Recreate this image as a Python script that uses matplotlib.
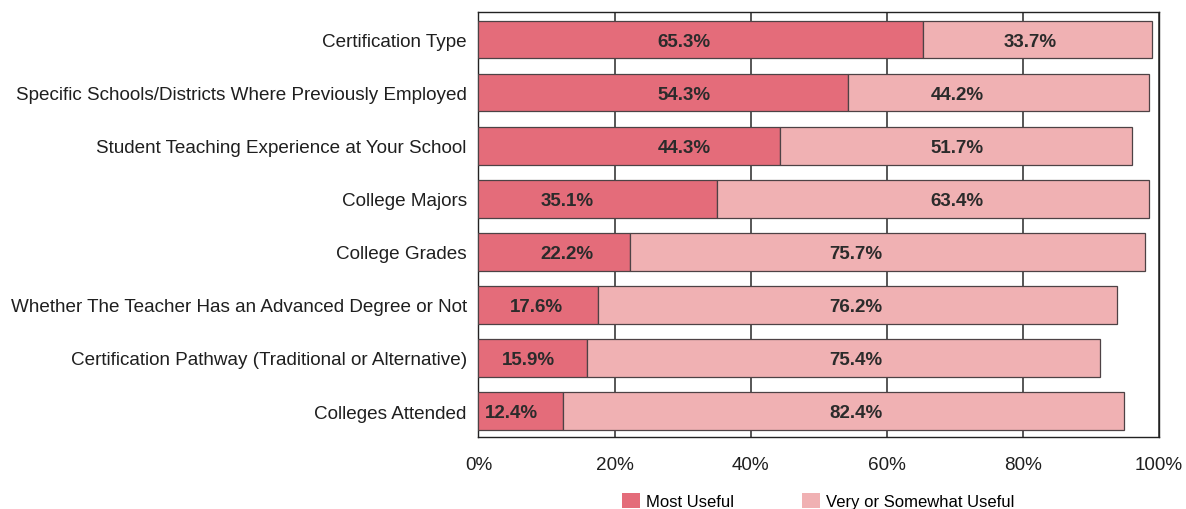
import numpy as np
import matplotlib.pyplot as plt

plt.rcParams['font.family'] = ['Liberation Sans', 'DejaVu Sans']

categories = ['Certification Type',
              'Specific Schools/Districts Where Previously Employed',
              'Student Teaching Experience at Your School',
              'College Majors',
              'College Grades',
              'Whether The Teacher Has an Advanced Degree or Not',
              'Certification Pathway (Traditional or Alternative)',
              'Colleges Attended']
most_useful = [65.3, 54.3, 44.3, 35.1, 22.2, 17.6, 15.9, 12.4]
very_somewhat = [33.7, 44.2, 51.7, 63.4, 75.7, 76.2, 75.4, 82.4]
xticks = [0, 20, 40, 60, 80, 100]

# where the value labels sit in the source chart (x, in % units)
dark_label_x = [30.2, 30.2, 30.2, 13.0, 13.0, 8.5, 7.3, 4.8]
light_label_x = [81.0, 70.3, 70.3, 70.3, 55.5, 55.5, 55.5, 55.5]

dark = '#E46C7A'
light = '#F0B1B3'

fig = plt.figure(figsize=(11.86, 5.1), dpi=100)
ax = fig.add_axes([478.5 / 1186, 72 / 510, 680.5 / 1186, 425 / 510])

y = np.arange(len(categories))[::-1]
h = 0.71
ax.barh(y, most_useful, height=h, color=dark, edgecolor='#4d4245', linewidth=0.9,
        label='Most Useful', zorder=3)
ax.barh(y, very_somewhat, left=most_useful, height=h, color=light, edgecolor='#4d4245',
        linewidth=0.9, label='Very or Somewhat Useful', zorder=3)

for yi, a, b, xa, xb in zip(y, most_useful, very_somewhat, dark_label_x, light_label_x):
    ax.text(xa, yi - 0.03, f'{a:.1f}%', ha='center', va='center',
            fontsize=13.5, fontweight='bold', color='#2b2b2b', zorder=4)
    ax.text(xb, yi - 0.03, f'{b:.1f}%', ha='center', va='center',
            fontsize=13.5, fontweight='bold', color='#2b2b2b', zorder=4)

ax.set_xlim(0, 100)
ax.set_ylim(-0.49, 7.52)
ax.set_xticks(xticks)
ax.set_xticklabels([f'{t}%' for t in xticks])
ax.set_yticks(y)
ax.set_yticklabels(categories)
ax.tick_params(axis='both', length=0, labelsize=13.6, colors='#1f1f1f')
ax.tick_params(axis='x', pad=13.5)
ax.tick_params(axis='y', pad=8.4)
ax.xaxis.grid(True, color='#3a3a3a', linewidth=1.2, zorder=0)
for s in ax.spines.values():
    s.set_color('#222222')
    s.set_linewidth(1.0)

leg = fig.legend(loc='center', bbox_to_anchor=(818.5 / 1186, 1 - 502 / 510), ncol=2,
                 frameon=False, fontsize=12, handlelength=1.08, handleheight=0.96,
                 columnspacing=4.1, handletextpad=0.36)
for p in leg.get_patches():
    p.set_edgecolor('none')

fig.savefig('out.png', dpi=100)
